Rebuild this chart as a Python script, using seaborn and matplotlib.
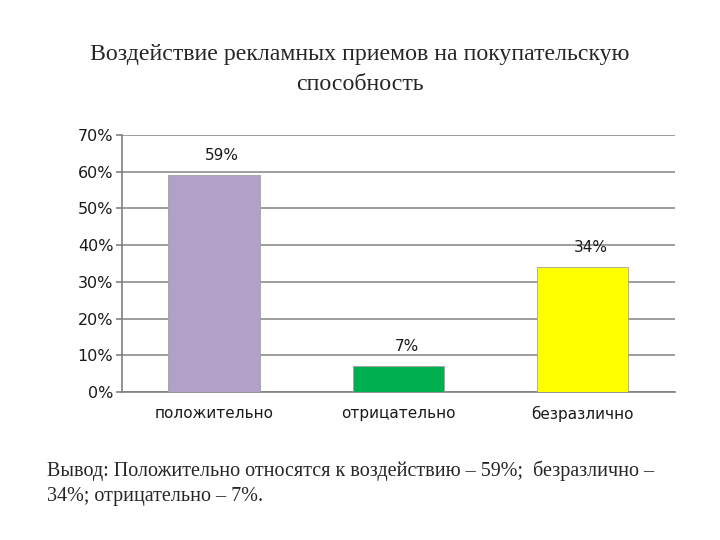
import matplotlib
matplotlib.use("Agg")
import matplotlib.pyplot as plt
import seaborn as sns
import pandas as pd
from matplotlib.ticker import FuncFormatter

categories = ["положительно", "отрицательно", "безразлично"]
values = [0.59, 0.07, 0.34]
labels = ["59%", "7%", "34%"]
colors = ["#B1A0C7", "#00B050", "#FFFF00"]
yticks = [0, 0.1, 0.2, 0.3, 0.4, 0.5, 0.6, 0.7]

sns.set_style("white")
plt.rcParams['font.family'] = ['DejaVu Sans']

df = pd.DataFrame({"cat": categories, "val": values})

fig = plt.figure(figsize=(7.2, 5.4), dpi=100)
ax = fig.add_axes([0.169, 0.274, 0.7685, 0.476])

sns.barplot(data=df, x="cat", y="val", hue="cat", palette=colors, legend=False,
            width=0.495, ax=ax, edgecolor="#A0A0A0", linewidth=0.6, saturation=1, zorder=3)

ax.set_ylim(0, 0.7)
ax.set_xlim(-0.5, 2.5)
ax.set_yticks(yticks)
ax.yaxis.set_major_formatter(FuncFormatter(lambda v, p: f"{round(v*100)}%"))
ax.grid(axis="y", color="#8C8C8C", linewidth=1.2, zorder=0)
ax.set_axisbelow(True)
ax.set_xlabel("")
ax.set_ylabel("")

for s in ["top", "right"]:
    ax.spines[s].set_visible(False)
for s in ["left", "bottom"]:
    ax.spines[s].set_color("#808080")
    ax.spines[s].set_linewidth(1.2)

ax.set_xticks([0, 1, 2])
ax.set_xticklabels(categories, fontsize=11, color="#1a1a1a")
ax.tick_params(axis="x", length=0, pad=10)
ax.set_xticks([-0.5, 0.5, 1.5, 2.5], minor=True)
ax.tick_params(axis="x", which="minor", length=5, color="#808080", width=1.2, direction="out")
ax.tick_params(axis="y", labelsize=11.5, labelcolor="#1a1a1a", length=4, color="#808080",
               width=1.2, direction="out", left=True, pad=2)

for i, (v, lab) in enumerate(zip(values, labels)):
    ax.annotate(lab, (i, v), xytext=(6, 9), textcoords="offset points",
                ha="center", va="bottom", fontsize=11, color="#1a1a1a")

fig.text(0.5, 0.872, "Воздействие рекламных приемов на покупательскую\nспособность",
         ha="center", va="center", fontsize=17.2, family=["Liberation Serif"],
         linespacing=1.55)

fig.text(0.065, 0.105, "Вывод: Положительно относятся к воздействию – 59%;  безразлично –\n34%; отрицательно – 7%.",
         ha="left", va="center", fontsize=14.5, family=["Liberation Serif"], linespacing=1.4)

fig.savefig("out.png", dpi=100)
